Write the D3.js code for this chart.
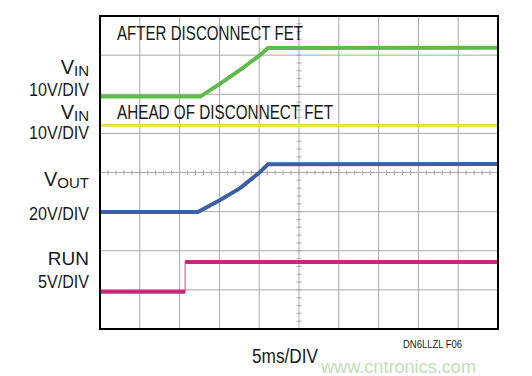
<!DOCTYPE html>
<head>
    <title>Disconnect FET</title>
    <meta charset='utf-8'>
    <script type='text/javascript' src='https://cdn.jsdelivr.net/npm/d3@7'></script>
    <style>
        body { margin: 0; background: #fff; }
        text { font-family: 'Liberation Sans Narrow', 'Arial Narrow', 'Liberation Sans', Arial, sans-serif; fill: #1a1a1a; }
    </style>
</head>
<body>
<script>
    // time in ms (5ms/DIV, 10 divisions), level in divisions from the bottom (8 divisions)
    var green = [[0, 5.94], [12.6, 5.94], [15.1, 6.27], [17.6, 6.62], [20.1, 7.0], [21.1, 7.18], [50, 7.19]];
    var yellow = [[0, 5.21], [50, 5.21]];
    var blue = [[0, 2.99], [12.3, 2.99], [15.1, 3.30], [17.6, 3.60], [20.1, 4.01], [21.1, 4.21], [50, 4.22]];
    var magenta = [[0, 0.95], [10.7, 0.95], [10.7, 1.71], [50, 1.71]];

    var traceLabels = ['AFTER DISCONNECT FET', 'AHEAD OF DISCONNECT FET'];
    var channelLabels = [
        {main: 'V', sub: 'IN', scale: '10V/DIV'},
        {main: 'V', sub: 'IN', scale: '10V/DIV'},
        {main: 'V', sub: 'OUT', scale: '20V/DIV'},
        {main: 'RUN', sub: '', scale: '5V/DIV'}
    ];
    var timeLabel = '5ms/DIV';
    var figLabel = 'DN6LLZL F06';
    var watermark = 'www.cntronics.com';

    var margin = {top: 16, left: 100, right: 34, bottom: 47};
    var width = 532 - margin.left - margin.right,
        height = 376 - margin.top - margin.bottom;

    var svg = d3.select('body').append('svg')
        .attr('width', 532)
        .attr('height', 376);

    var x = d3.scaleLinear().domain([0, 50]).range([margin.left, margin.left + width]);
    var y = d3.scaleLinear().domain([0, 8]).range([margin.top + height, margin.top]);

    // grid
    var grid = svg.append('g');
    grid.selectAll('.vx').data(d3.range(5, 50, 5)).enter().append('line')
        .attr('x1', d => x(d)).attr('x2', d => x(d))
        .attr('y1', y(0)).attr('y2', y(8))
        .attr('stroke', '#a8a8a8').attr('stroke-width', 1);
    grid.selectAll('.hy').data(d3.range(1, 8)).enter().append('line')
        .attr('y1', d => y(d)).attr('y2', d => y(d))
        .attr('x1', x(0)).attr('x2', x(50))
        .attr('stroke', '#a8a8a8').attr('stroke-width', 1);

    // minor ticks on the center axes
    grid.selectAll('.tx').data(d3.range(1, 50, 1)).enter().append('line')
        .attr('x1', d => x(d)).attr('x2', d => x(d))
        .attr('y1', y(4) - 2.5).attr('y2', y(4) + 2.5)
        .attr('stroke', '#a8a8a8');
    grid.selectAll('.ty').data(d3.range(0.2, 8, 0.2)).enter().append('line')
        .attr('y1', d => y(d)).attr('y2', d => y(d))
        .attr('x1', x(25) - 2.5).attr('x2', x(25) + 2.5)
        .attr('stroke', '#a8a8a8');

    var line = d3.line().x(d => x(d[0])).y(d => y(d[1]));

    svg.append('path').datum(green).attr('d', line)
        .attr('fill', 'none').attr('stroke', '#5cbb4a').attr('stroke-width', 4);
    svg.append('path').datum(yellow).attr('d', line)
        .attr('fill', 'none').attr('stroke', '#e6e13c').attr('stroke-width', 3);
    svg.append('path').datum(blue).attr('d', line)
        .attr('fill', 'none').attr('stroke', '#3d5fa3').attr('stroke-width', 4);

    // run: thin edge, thick levels
    svg.append('path').datum(magenta).attr('d', line)
        .attr('fill', 'none').attr('stroke', '#e080b0').attr('stroke-width', 1.5);
    var levels = d3.pairs(magenta).filter(p => p[0][1] === p[1][1]);
    svg.selectAll('.run').data(levels).enter().append('path')
        .attr('d', line)
        .attr('fill', 'none').attr('stroke', '#c7287c').attr('stroke-width', 4);

    // frame
    svg.append('rect')
        .attr('x', x(0)).attr('y', y(8))
        .attr('width', x(50) - x(0)).attr('height', y(0) - y(8))
        .attr('fill', 'none').attr('stroke', '#000').attr('stroke-width', 2);

    // trace labels inside the plot
    var labelPos = [[117, 40, 186], [117, 119, 216]];
    svg.selectAll('.tl').data(traceLabels).enter().append('text')
        .attr('x', (d, i) => labelPos[i][0])
        .attr('y', (d, i) => labelPos[i][1])
        .attr('textLength', (d, i) => labelPos[i][2])
        .attr('lengthAdjust', 'spacingAndGlyphs')
        .attr('font-size', 20)
        .text(d => d);

    // channel labels on the left
    var right = 89;
    var rows = [
        {base: 74, scaleY: 96},
        {base: 119, scaleY: 139},
        {base: 186, scaleY: 220},
        {base: 265, scaleY: 288}
    ];
    channelLabels.forEach(function (c, i) {
        var r = rows[i];
        var t = svg.append('text')
            .attr('x', right).attr('y', r.base)
            .attr('text-anchor', 'end')
            .attr('font-size', c.sub ? 20 : 19);
        t.append('tspan').text(c.main);
        if (c.sub) {
            t.append('tspan').attr('dy', 2).attr('font-size', 15).text(c.sub);
        }
        var w = c.scale.length > 6 ? 60 : 51;
        svg.append('text')
            .attr('x', right).attr('y', r.scaleY)
            .attr('text-anchor', 'end')
            .attr('font-size', 18)
            .attr('textLength', w).attr('lengthAdjust', 'spacingAndGlyphs')
            .text(c.scale);
    });

    svg.append('text')
        .attr('x', 252).attr('y', 363)
        .attr('font-size', 20)
        .attr('textLength', 66).attr('lengthAdjust', 'spacingAndGlyphs')
        .text(timeLabel);

    svg.append('text')
        .attr('x', 403).attr('y', 348)
        .attr('font-size', 10)
        .attr('textLength', 59).attr('lengthAdjust', 'spacingAndGlyphs')
        .text(figLabel);

    svg.append('text')
        .attr('x', 321).attr('y', 373)
        .attr('font-size', 19)
        .attr('textLength', 155).attr('lengthAdjust', 'spacingAndGlyphs')
        .style('font-family', "'Liberation Sans', Arial, sans-serif")
        .style('fill', '#bfe0b6')
        .text(watermark);
</script>
</body>
</html>
